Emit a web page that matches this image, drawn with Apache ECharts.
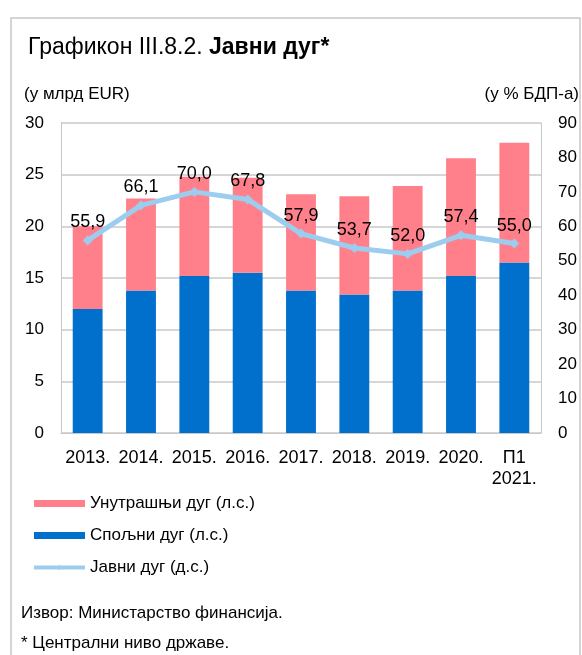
<!DOCTYPE html>
<html>
<head>
<meta charset="utf-8">
<script src="https://cdn.jsdelivr.net/npm/echarts@6/dist/echarts.min.js"></script>
<style>
  html, body { margin: 0; padding: 0; background: #fff; }
  #chart { width: 582px; height: 655px; }
</style>
</head>
<body>
<div id="chart"></div>
<script>
// годинe / периоди
const categories = ['2013.', '2014.', '2015.', '2016.', '2017.', '2018.', '2019.', '2020.', 'П1\n2021.'];
// спољни дуг, млрд EUR (л.с.)
const externalDebt = [12.0, 13.8, 15.2, 15.5, 13.8, 13.4, 13.8, 15.2, 16.5];
// унутрашњи дуг, млрд EUR (л.с.)
const domesticDebt = [8.0, 8.9, 9.6, 9.2, 9.3, 9.5, 10.1, 11.4, 11.6];
// јавни дуг, % БДП-а (д.с.)
const publicDebtGdp = [55.9, 66.1, 70.0, 67.8, 57.9, 53.7, 52.0, 57.4, 55.0];

const FONT = 'Liberation Sans, Arial, sans-serif';
const GRID_COLOR = '#C8C8C8';
const LINE_COLOR = '#9DCDEE';

const chart = echarts.init(document.getElementById('chart'));

const option = {
  animation: false,
  textStyle: { fontFamily: FONT, color: '#000' },
  grid: { left: 61, right: 41, top: 123, bottom: 222 },
  legend: {
    orient: 'vertical',
    left: 27,
    top: 490,
    itemWidth: 51,
    itemHeight: 7,
    itemGap: 15,
    textStyle: { fontSize: 17, color: '#000', fontFamily: FONT },
    data: [
      { name: 'Унутрашњи дуг (л.с.)', icon: 'rect' },
      { name: 'Спољни дуг (л.с.)', icon: 'rect' },
      { name: 'Јавни дуг (д.с.)', lineStyle: { width: 4, color: LINE_COLOR } }
    ]
  },
  xAxis: {
    type: 'category',
    data: categories,
    axisLine: { lineStyle: { color: GRID_COLOR } },
    axisTick: { interval: 1, length: 7, lineStyle: { color: GRID_COLOR } },
    axisLabel: { fontSize: 18, color: '#000', margin: 15, lineHeight: 21, interval: 0 }
  },
  yAxis: [
    {
      type: 'value', min: 0, max: 30, interval: 5,
      axisLine: { show: true, lineStyle: { color: GRID_COLOR } },
      splitLine: { lineStyle: { color: GRID_COLOR, width: 1.5 } },
      axisLabel: { fontSize: 17, color: '#000', margin: 17 }
    },
    {
      type: 'value', min: 0, max: 90, interval: 10,
      axisLine: { show: true, lineStyle: { color: GRID_COLOR } },
      splitLine: { show: false },
      axisLabel: { fontSize: 17, color: '#000', margin: 17 }
    }
  ],
  series: [
    {
      name: 'Спољни дуг (л.с.)',
      type: 'bar',
      stack: 'debt',
      barWidth: '56%',
      itemStyle: { color: '#0070CC' },
      data: externalDebt
    },
    {
      name: 'Унутрашњи дуг (л.с.)',
      type: 'bar',
      stack: 'debt',
      itemStyle: { color: '#FF808B' },
      data: domesticDebt
    },
    {
      name: 'Јавни дуг (д.с.)',
      type: 'line',
      yAxisIndex: 1,
      symbol: 'diamond',
      symbolSize: 10,
      lineStyle: { color: LINE_COLOR, width: 5 },
      itemStyle: { color: LINE_COLOR },
      label: {
        show: true,
        position: 'top',
        distance: 4,
        fontSize: 18,
        color: '#000',
        formatter: p => p.value.toFixed(1).replace('.', ',')
      },
      data: publicDebtGdp,
      z: 5
    }
  ],
  graphic: [
    {
      type: 'rect',
      shape: { x: 11, y: 18, width: 569, height: 700 },
      style: { fill: 'none', stroke: '#C8C8C8', lineWidth: 1.5 },
      silent: true, z: -1
    },
    {
      type: 'text', left: 28, top: 36,
      style: {
        text: '{n|Графикон III.8.2. }{b|Јавни дуг*}',
        rich: {
          n: { fontSize: 23, fontFamily: FONT, fill: '#000' },
          b: { fontSize: 23, fontFamily: FONT, fontWeight: 'bold', fill: '#000' }
        }
      }
    },
    {
      type: 'text', left: 24, top: 86,
      style: { text: '(у млрд EUR)', fontSize: 17, fontFamily: FONT, fill: '#000' }
    },
    {
      type: 'text', right: 3, top: 86,
      style: { text: '(у % БДП-а)', fontSize: 17, fontFamily: FONT, fill: '#000' }
    },
    {
      type: 'text', left: 21, top: 605,
      style: { text: 'Извор: Министарство финансија.', fontSize: 17, fontFamily: FONT, fill: '#000' }
    },
    {
      type: 'text', left: 21, top: 635,
      style: { text: '* Централни ниво државе.', fontSize: 17, fontFamily: FONT, fill: '#000' }
    }
  ]
};

chart.setOption(option);
</script>
</body>
</html>
